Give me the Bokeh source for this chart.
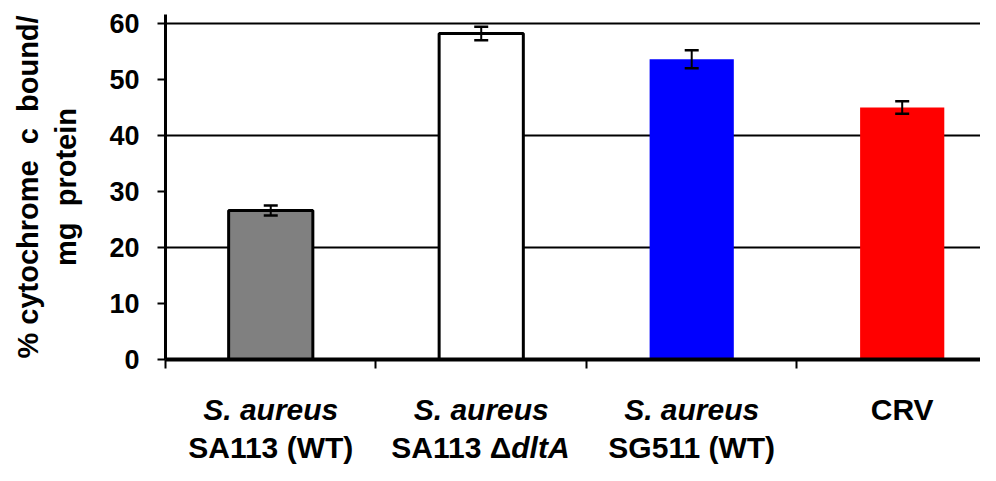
import math
from bokeh.plotting import figure
from bokeh.layouts import column
from bokeh.models import ColumnDataSource, FixedTicker, Whisker, TeeHead, Range1d
from bokeh.core.properties import value
from bokeh.embed import file_html
from bokeh.resources import INLINE

# ---- data ----
line1_labels = ["S. aureus", "S. aureus", "S. aureus", "CRV"]
line1_styles = ["bold italic", "bold italic", "bold italic", "bold"]
line2_labels = ["SA113 (WT)", "SA113 \u0394", "SG511 (WT)", ""]
line2_italic_suffix = ["", "dltA", "", ""]
values = [26.6, 58.2, 53.6, 45.0]
errors = [0.9, 1.2, 1.6, 1.1]
fill_colors = ["#808080", "#ffffff", "#0000ff", "#ff0000"]
outline_alpha = [1, 1, 0, 0]
y_ticks = [0, 10, 20, 30, 40, 50, 60]
grid_ticks = [20, 40, 60]
NB = "\u00a0"
y_title = f"%{NB}cytochrome{NB}{NB}c{NB}{NB}bound/\nmg{NB}{NB}protein"

FONT = "Liberation Sans"
LEFT = 165
FW = 815          # frame width
FH_MAIN = 345     # main frame height
B_MAIN = 30       # bottom border of main plot (x axis)
H_LAB = 76        # label strip height

xs = [i + 0.5 for i in range(len(values))]
src = ColumnDataSource(dict(
    x=xs, top=values, fill=fill_colors, la=outline_alpha,
    upper=[v + e for v, e in zip(values, errors)],
    lower=[v - e for v, e in zip(values, errors)],
))

xr = Range1d(0, 3.872)
p = figure(frame_width=FW, frame_height=FH_MAIN, output_backend="svg", toolbar_location=None,
           title=None, x_range=xr, y_range=Range1d(0, 61.6),
           min_border_left=LEFT, min_border_right=0, min_border_top=14, min_border_bottom=B_MAIN)
p.outline_line_color = None
p.background_fill_color = "white"
p.border_fill_color = "white"

p.vbar(x="x", top="top", width=0.4, source=src, fill_color="fill",
       line_color="black", line_alpha="la", line_width=3)

p.add_layout(Whisker(base="x", upper="upper", lower="lower", source=src, level="overlay",
                     line_width=2, line_color="black",
                     upper_head=TeeHead(size=14, line_width=2.5, line_color="black"),
                     lower_head=TeeHead(size=14, line_width=2.5, line_color="black")))

# grid
p.xgrid.visible = False
p.ygrid.ticker = FixedTicker(ticks=grid_ticks)
p.ygrid.grid_line_color = "black"
p.ygrid.grid_line_width = 2

# y axis
ya = p.yaxis[0]
ya.ticker = FixedTicker(ticks=y_ticks)
ya.axis_line_width = 3
ya.major_tick_out = 8
ya.major_tick_in = 0
ya.major_tick_line_width = 2
ya.minor_tick_line_color = None
ya.major_label_standoff = 18
ya.major_label_text_font = FONT
ya.major_label_text_font_style = "bold"
ya.major_label_text_font_size = "27px"
ya.major_label_text_color = "black"
ya.axis_label = y_title
ya.axis_label_text_font = FONT
ya.axis_label_text_font_style = "bold"
ya.axis_label_text_font_size = "29px"
ya.axis_label_text_color = "black"
ya.axis_label_standoff = 24

# x axis
xa = p.xaxis[0]
xa.ticker = FixedTicker(ticks=[0, 1, 2, 3, 4])
xa.axis_line_width = 4
xa.major_tick_out = 9
xa.major_tick_in = 0
xa.major_tick_line_width = 2
xa.minor_tick_line_color = None
xa.major_label_text_alpha = 0
xa.major_label_text_font_size = "1px"
xa.major_label_standoff = 0

# ---- category label strip, sharing the x range ----
q = figure(frame_width=FW, frame_height=H_LAB, output_backend="svg", toolbar_location=None,
           title=None, x_range=xr, y_range=Range1d(0, H_LAB),
           min_border_left=LEFT, min_border_right=0, min_border_top=0, min_border_bottom=0)
q.axis.visible = False
q.grid.visible = False
q.outline_line_color = None

Y1, Y2 = 56, 18
for style in ("bold italic", "bold"):
    idx = [i for i, s in enumerate(line1_styles) if s == style]
    q.text(x=[xs[i] for i in idx], y=[Y1] * len(idx), text=[line1_labels[i] for i in idx],
           text_align="center", text_baseline="alphabetic", text_font=value(FONT),
           text_font_style=style, text_font_size="30px", text_color="black")

plain = [i for i in range(len(xs)) if line2_labels[i] and not line2_italic_suffix[i]]
q.text(x=[xs[i] for i in plain], y=[Y2] * len(plain), text=[line2_labels[i] for i in plain],
       text_align="center", text_baseline="alphabetic", text_font=value(FONT),
       text_font_style="bold", text_font_size="30px", text_color="black")
split = [i for i in range(len(xs)) if line2_italic_suffix[i]]
q.text(x=[xs[i] for i in split], y=[Y2] * len(split), text=[line2_labels[i] for i in split],
       x_offset=30, text_align="right", text_baseline="alphabetic", text_font=value(FONT),
       text_font_style="bold", text_font_size="30px", text_color="black")
q.text(x=[xs[i] for i in split], y=[Y2] * len(split), text=[line2_italic_suffix[i] for i in split],
       x_offset=30, text_align="left", text_baseline="alphabetic", text_font=value(FONT),
       text_font_style="bold italic", text_font_size="30px", text_color="black")

layout = column(p, q, spacing=0)
open("out.html", "w").write(file_html(layout, INLINE))
